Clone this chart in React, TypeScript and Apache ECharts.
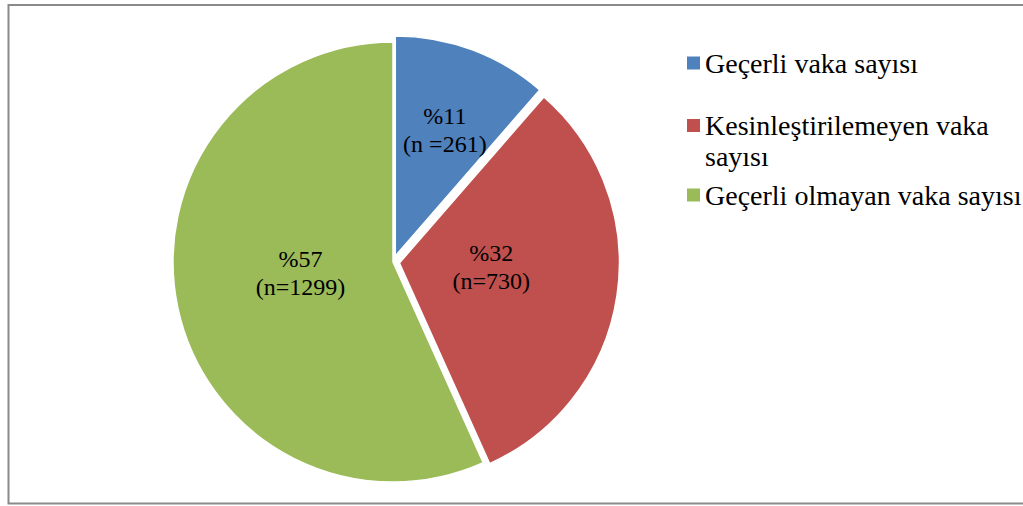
import React, { useEffect, useRef } from 'react';
import * as echarts from 'echarts';

const categories = ['Geçerli vaka sayısı', 'Kesinleştirilemeyen vaka sayısı', 'Geçerli olmayan vaka sayısı'];
const caseCounts = [261, 730, 1299];
const countSeparators = [' =', '=', '='];
const sliceColors = ['#4F81BD', '#C0504D', '#9BBB59'];
const explodedSlices = [true, true, false];
const labelShift = [[10, -20], [-20, -12], [18, -13]];
const legendTops = [47.5, 79, 179.5];

export default function App() {
  const ref = useRef<HTMLDivElement>(null);
  useEffect(() => {
    const chart = echarts.init(ref.current!, null, { renderer: 'svg' });
    const font = "'Liberation Serif', 'Times New Roman', serif";
    const total = caseCounts.reduce((a, b) => a + b, 0);
    chart.setOption({
      animation: false,
      graphic: [
        {
          type: 'rect',
          silent: true,
          shape: { x: 8.5, y: 5, width: 1030, height: 498.5 },
          style: { fill: 'none', stroke: '#8a8a8a', lineWidth: 2 },
        },
      ],
      legend: categories.map((name, i) => ({
        data: [name],
        left: 687,
        top: legendTops[i],
        orient: 'vertical',
        padding: 0,
        itemGap: 0,
        itemWidth: 13,
        itemHeight: 13,
        icon: 'rect',
        selectedMode: false,
        itemStyle: { borderWidth: 0 },
        formatter: (n: string) => (n === categories[1] ? '\nKesinleştirilemeyen vaka\nsayısı' : n),
        textStyle: {
          fontFamily: font,
          fontSize: 28,
          lineHeight: 31,
          color: '#000',
        },
      })),
      series: [
        {
          type: 'pie',
          center: [393, 262],
          radius: 220,
          startAngle: 90,
          clockwise: true,
          selectedMode: 'multiple',
          selectedOffset: 6.5,
          emphasis: { disabled: true },
          itemStyle: { borderColor: '#fff', borderWidth: 1.5 },
          label: {
            show: true,
            position: 'inside',
            fontFamily: font,
            fontSize: 24,
            lineHeight: 28,
            color: '#000',
            formatter: (p: any) =>
              `%${Math.round((p.value / total) * 100)}\n(n${countSeparators[p.dataIndex]}${p.value})`,
          },
          labelLine: { show: false },
          labelLayout: (p: any) => ({ dx: labelShift[p.dataIndex][0], dy: labelShift[p.dataIndex][1] }),
          data: categories.map((name, i) => ({
            name,
            value: caseCounts[i],
            selected: explodedSlices[i],
            itemStyle: { color: sliceColors[i] },
          })),
        },
      ],
    });
    return () => chart.dispose();
  }, []);
  return <div ref={ref} style={{ position: 'absolute', left: 0, top: 0, width: 1023, height: 506 }} />;
}
